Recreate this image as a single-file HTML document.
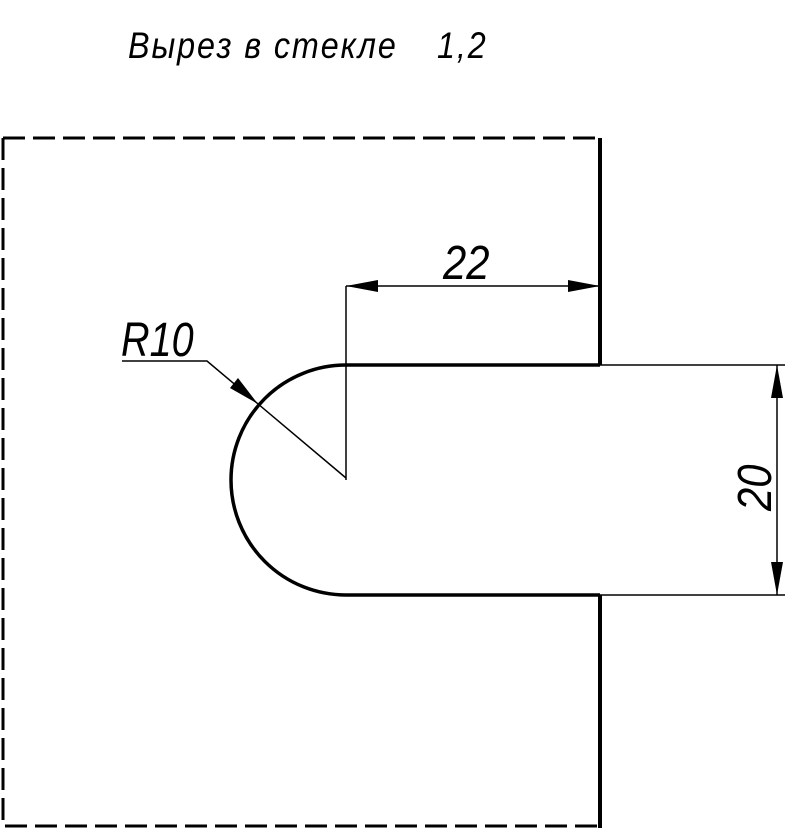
<!DOCTYPE html>
<html><head><meta charset="utf-8"><style>html,body{margin:0;padding:0;background:#fff;width:800px;height:828px;overflow:hidden}</style></head>
<body>
<svg width="800" height="828" viewBox="0 0 800 828" xmlns="http://www.w3.org/2000/svg">
<g font-family="Liberation Sans, DejaVu Sans, sans-serif" font-style="italic" fill="#000">
<text x="0" y="0" font-size="34" letter-spacing="2" transform="translate(128,58) scale(0.95,1.1)">Вырез в стекле</text>
<text x="0" y="0" font-size="34" letter-spacing="2" transform="translate(437,58) scale(0.95,1.1)">1,2</text>
<text x="0" y="0" font-size="44" transform="translate(121,356) scale(0.9,1.1)">R10</text>
<text x="0" y="0" font-size="44" transform="translate(443,279) scale(0.95,1.1)">22</text>
<text x="0" y="0" font-size="44" transform="translate(771,511) rotate(-90) scale(0.95,1.1)">20</text>
</g>
<g fill="none" stroke="#000">
<path d="M3 138 H600 M3 138 V826 H600" stroke-width="3" stroke-dasharray="22,8"/>
<path d="M600 138 V365 M600 595 V828" stroke-width="4"/>
<path d="M600 365 H346 A115 115 0 0 0 346 595 H600" stroke-width="3.5"/>
<path d="M600 365 H785 M600 595 H785 M777 365 V595 M346 286 V480 M346 286 H600 M122 361 H207 L346 478" stroke-width="1.5"/>
</g>
<g fill="#000">
<polygon points="777,365 771,398 783,398"/>
<polygon points="777,595 771,562 783,562"/>
<polygon points="346,286 378,280 378,292"/>
<polygon points="600,286 568,280 568,292"/>
<polygon points="258,404 230,388 238,378"/>
</g>
</svg>
</body></html>
